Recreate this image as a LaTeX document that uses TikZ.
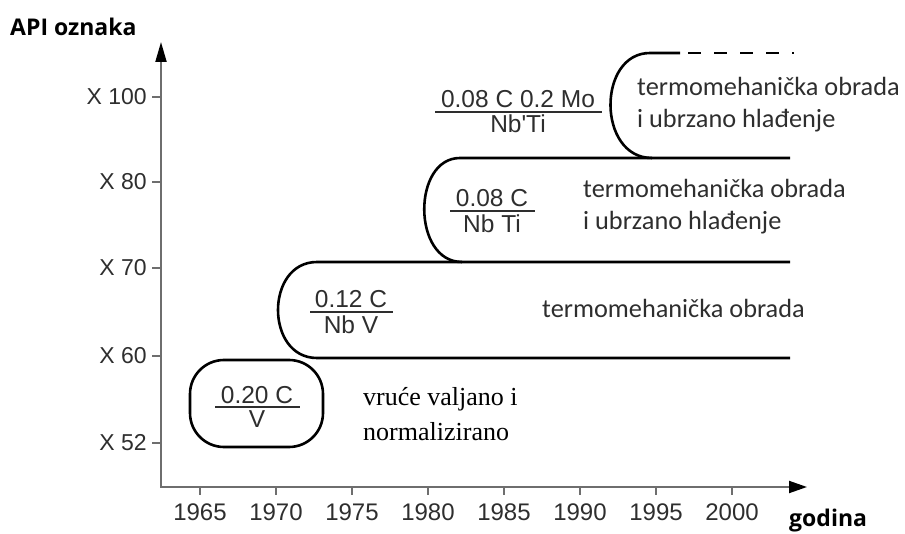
\documentclass[tikz,border=0pt]{standalone}
\usepackage{fontspec}
\usetikzlibrary{arrows.meta}
\newfontfamily\fcal{Carlito}
\newfontfamily\fari{Liberation Sans}
\newfontfamily\ftim{Liberation Serif}
\newfontfamily\fopen{Open Sans}
\definecolor{axisgray}{HTML}{6E6E6E}
\definecolor{txt}{HTML}{2E2E2E}
\begin{document}
\begin{tikzpicture}[x=1pt,y=-1pt,
  axisline/.style={draw=axisgray, line width=2pt},
  band/.style={draw=black, line width=2.6pt},
  fracbar/.style={draw=txt, line width=1.4pt},
  ticklab/.style={inner sep=0pt, text=txt, font=\fari\fontsize{23}{26}\selectfont},
  yearlab/.style={inner sep=0pt, text=txt, font=\fari\fontsize{24}{26}\selectfont},
  frac/.style={inner sep=0pt, text=txt, font=\fari\fontsize{24.5}{26}\selectfont},
  caltext/.style={inner sep=0pt, anchor=base west, text=txt, font=\fcal\fontsize{26.3}{32}\selectfont},
  sertext/.style={inner sep=0pt, anchor=base west, text=black, font=\ftim\fontsize{26}{32}\selectfont},
  axtitle/.style={inner sep=0pt, text=black, font=\fopen\bfseries\fontsize{23}{26}\selectfont}
]
\useasboundingbox (0,0) rectangle (905,534);

% axes
\coordinate (O) at (161,487);
\coordinate (ytip) at (161,42);
\coordinate (xtip) at (807,487);
\draw[axisline, -{Triangle[length=20pt,width=11pt,color=black]}] (O) -- (ytip);
\draw[axisline, -{Triangle[length=18pt,width=12pt,color=black]}] ([xshift=-1pt]O) -- (xtip);

% y ticks
\foreach \yy/\lab/\nm in {443/X 52/y52, 356/X 60/y60, 268/X 70/y70, 182/X 80/y80, 97/X 100/y100}{
  \draw[axisline] (152,\yy) -- (161,\yy);
  \node[ticklab, anchor=east] (\nm) at (147,\yy) {\lab};
}
% x ticks
\foreach \k/\yr in {0/1965,1/1970,2/1975,3/1980,4/1985,5/1990,6/1995,7/2000}{
  \draw[axisline] (200+76*\k,487) -- (200+76*\k,495);
  \node[yearlab] (yr\yr) at (200+76*\k,512) {\yr};
}

\node[axtitle, anchor=west] (api) at (10,27) {API oznaka};
\node[axtitle, anchor=west] (god) at (789,521) {godina};

% small box
\draw[band, rounded corners=34pt] (190,360) rectangle (323,447);
\node[frac, anchor=base] (n1) at (257,403) {0.20 C};
\node[frac, anchor=base] (d1) at (257,428) {V};
\draw[fracbar] (215,407) -- (300,407);
\node[sertext] (s1) at (363,406) {vruće valjano i};
\node[sertext] (s2) at (363,440) {normalizirano};

% band X60-X70
\draw[band] (790,262) -- (317,262) .. controls (265,262) and (265,358) .. (317,358) -- (790,358);
\node[frac, anchor=base] (n2) at (351,308) {0.12 C};
\node[frac, anchor=base] (d2) at (351,334) {Nb V};
\draw[fracbar] (310,312) -- (393,312);
\node[caltext] (c3) at (542,318) {termomehanička obrada};

% band X70-X80
\draw[band] (790,158) -- (460,158) .. controls (412,158) and (412,262) .. (462,262);
\node[frac, anchor=base] (n3) at (492,207) {0.08 C};
\node[frac, anchor=base] (d3) at (492,233) {Nb Ti};
\draw[fracbar] (450,211) -- (535,211);
\node[caltext] (c2a) at (583,198) {termomehanička obrada};
\node[caltext] (c2b) at (583,230) {i ubrzano hlađenje};

% band X80-X100
\draw[band] (680,53) -- (650,53) .. controls (597,53) and (597,158) .. (652,158);
\draw[band, dash pattern=on 13pt off 13pt] (688,53) -- (794,53);
\node[frac, anchor=base] (n4) at (518,108) {0.08 C 0.2 Mo};
\node[frac, anchor=base] (d4) at (518,133) {Nb'Ti};
\draw[fracbar] (435,112) -- (602,112);
\node[caltext] (c1a) at (637,96) {termomehanička obrada};
\node[caltext] (c1b) at (637,128) {i ubrzano hlađenje};
\end{tikzpicture}
\end{document}
